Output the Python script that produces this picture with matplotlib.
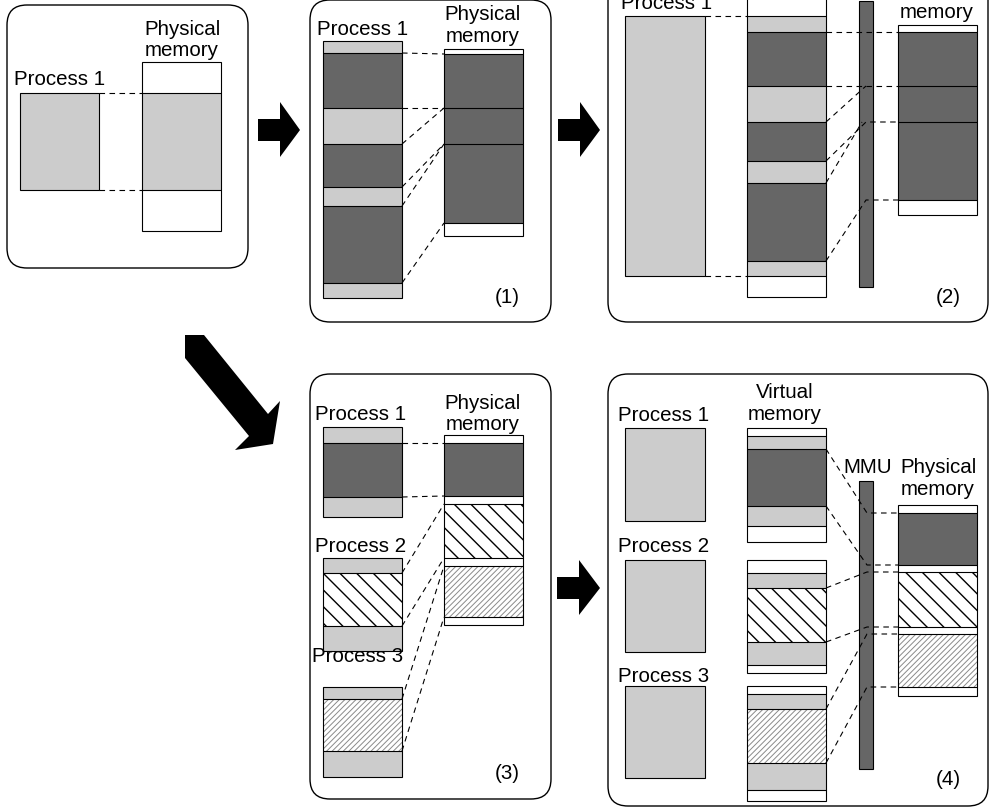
import matplotlib
matplotlib.use('Agg')
import matplotlib.pyplot as plt
from matplotlib.patches import Rectangle, FancyBboxPatch, Polygon

W, H = 995, 812
LIGHT = '#cccccc'
DARK = '#666666'
FONT = 'Liberation Sans'
FS = 14.8

# ---- panel frames (x0, y0, x1, y1) in pixel space ----
panels = [(7, 6, 248, 269), (310, 1, 551, 323), (608, -40, 988, 323),
          (310, 375, 551, 800), (608, 375, 988, 807)]

# ---- memory columns: (x, width, boundaries, fills) ----
# fills: w white, l light, d dark, b coarse "\" hatch, f fine "/" hatch
columns = [
    # panel 0
    (20, 79, [94, 191], 'l'),
    (142, 79, [63, 94, 191, 232], 'wlw'),
    # panel 1
    (323, 79, [42, 54, 109, 145, 188, 207, 284, 299], 'ldldldl'),
    (444, 79, [50, 55, 109, 145, 224, 237], 'wdddw'),
    # panel 2
    (625, 80, [17, 277], 'l'),
    (747, 79, [-30, 17, 33, 87, 123, 162, 184, 262, 277, 298], 'wldldldlw'),
    (859, 14, [2, 288], 'd'),
    (898, 79, [26, 33, 87, 123, 201, 216], 'wdddw'),
    # panel 3
    (323, 79, [428, 444, 498, 518], 'ldl'),
    (323, 79, [559, 574, 627, 652], 'lbl'),
    (323, 79, [688, 700, 752, 778], 'lfl'),
    (444, 79, [436, 444, 497, 505, 559, 567, 618, 626], 'wdwbwfw'),
    # panel 4
    (625, 80, [429, 522], 'l'),
    (625, 80, [561, 653], 'l'),
    (625, 80, [687, 779], 'l'),
    (747, 79, [429, 437, 450, 507, 527, 543], 'wldlw'),
    (747, 79, [561, 574, 589, 643, 666, 674], 'wlblw'),
    (747, 79, [687, 695, 710, 764, 791, 802], 'wlflw'),
    (859, 14, [482, 770], 'd'),
    (898, 79, [506, 514, 566, 573, 628, 635, 688, 697], 'wdwbwfw'),
]

# ---- dashed mapping lines (polylines) ----
links = [
    [(99, 94), (142, 94)], [(99, 191), (142, 191)],
    [(402, 54), (444, 55)], [(402, 109), (444, 109)], [(402, 145), (444, 109)],
    [(402, 188), (444, 145)], [(402, 207), (444, 145)], [(402, 284), (444, 224)],
    [(705, 17), (747, 17)], [(705, 277), (747, 277)],
    [(826, 33), (898, 33)], [(826, 87), (898, 87)], [(826, 123), (866, 87)],
    [(826, 162), (866, 123), (898, 123)], [(826, 184), (862, 123)],
    [(826, 262), (866, 201), (898, 201)],
    [(402, 444), (444, 444)], [(402, 498), (444, 497)], [(402, 574), (444, 505)],
    [(402, 627), (444, 559)], [(402, 700), (444, 567)], [(402, 752), (444, 618)],
    [(826, 450), (867, 514), (898, 514)], [(826, 507), (867, 566), (898, 566)],
    [(826, 589), (867, 573), (898, 573)], [(826, 643), (867, 628), (898, 628)],
    [(826, 710), (867, 635), (898, 635)], [(826, 764), (867, 688), (898, 688)],
]

# ---- block arrows ----
right_arrows = [(258, 280, 300, 131), (558, 580, 600, 131), (557, 579, 600, 589)]
diag_arrow = [(185, 336), (204, 336), (268, 415), (280, 402), (273, 445),
              (235, 451), (249, 437), (185, 359)]

# ---- labels (x, baseline y, text) ----
labels = [
    (182, 35, 'Physical'), (182, 56, 'memory'), (60, 85, 'Process 1'),
    (363, 35, 'Process 1'), (483, 20, 'Physical'), (483, 42, 'memory'),
    (507, 303, '(1)'),
    (667, 9, 'Process 1'), (937, -7, 'Physical'), (937, 18, 'memory'),
    (948, 303, '(2)'),
    (361, 420, 'Process 1'), (483, 409, 'Physical'), (483, 430, 'memory'),
    (361, 552, 'Process 2'), (358, 662, 'Process 3'), (507, 779, '(3)'),
    (664, 421, 'Process 1'), (785, 398, 'Virtual'), (785, 420, 'memory'),
    (868, 473, 'MMU'), (938, 473, 'Physical'), (938, 495, 'memory'),
    (664, 552, 'Process 2'), (664, 682, 'Process 3'), (948, 785, '(4)'),
]

fig = plt.figure(figsize=(W / 100, H / 100), dpi=100)
ax = fig.add_axes([0, 0, 1, 1])
ax.set_xlim(0, W)
ax.set_ylim(H, 0)
ax.axis('off')

LW = 0.8
for (x0, y0, x1, y1) in panels:
    ax.add_patch(FancyBboxPatch((x0, y0), x1 - x0, y1 - y0,
                                boxstyle='round,pad=0,rounding_size=20',
                                fc='white', ec='black', lw=1.0, zorder=1))

fillmap = {'w': ('white', None, 'black'), 'l': (LIGHT, None, 'black'),
           'd': (DARK, None, 'black'), 'b': ('white', '\\\\', 'black'),
           'f': ('white', '//////', '#8a8a8a')}

for (x, w, bounds, fills) in columns:
    for i, f in enumerate(fills):
        y0, y1 = bounds[i], bounds[i + 1]
        fc, hatch, hc = fillmap[f]
        p = Rectangle((x, y0), w, y1 - y0, fc=fc, ec=hc if hatch else 'none',
                      hatch=hatch, lw=0, zorder=2)
        if hatch and hasattr(p, 'set_hatch_linewidth'):
            p.set_hatch_linewidth(1.0 if f == 'b' else 0.7)
        ax.add_patch(p)
    for yb in bounds[1:-1]:
        ax.plot([x, x + w], [yb, yb], color='black', lw=LW, zorder=3,
                solid_capstyle='butt')
    ax.add_patch(Rectangle((x, bounds[0]), w, bounds[-1] - bounds[0],
                           fill=False, ec='black', lw=LW, zorder=3))

for pts in links:
    xs = [p[0] for p in pts]
    ys = [p[1] for p in pts]
    ax.plot(xs, ys, color='black', lw=0.8, ls=(0, (5, 4)), zorder=4,
            dash_capstyle='butt')

for (xa, xh, xb, ym) in right_arrows:
    poly = [(xa, ym - 11), (xh, ym - 11), (xh, ym - 28), (xb, ym), (xh, ym + 27),
            (xh, ym + 11), (xa, ym + 11)]
    ax.add_patch(Polygon(poly, closed=True, fc='black', ec='none', zorder=2))
ax.add_patch(Polygon(diag_arrow, closed=True, fc='black', ec='none', zorder=2))

for (x, y, t) in labels:
    ax.text(x, y, t, ha='center', va='baseline', fontsize=FS, family=FONT,
            zorder=5)

fig.savefig('out.png', dpi=100)
